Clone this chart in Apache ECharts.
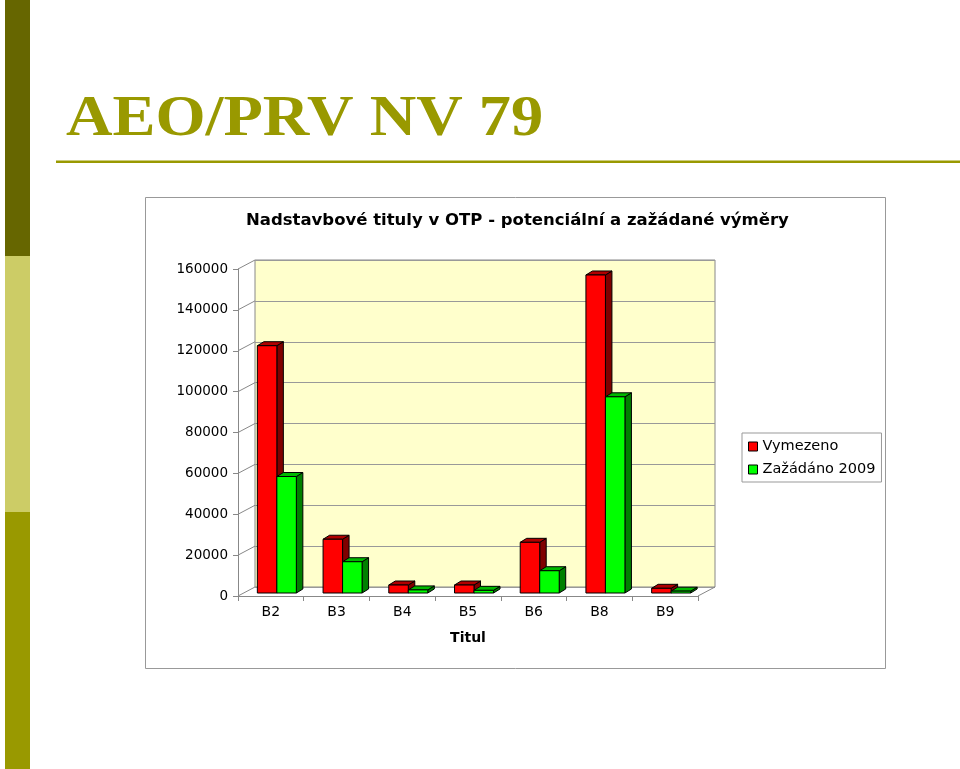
<!DOCTYPE html>
<html>
<head>
<meta charset="utf-8">
<script src="https://cdn.jsdelivr.net/npm/echarts@6/dist/echarts.min.js"></script>
<style>
html,body{margin:0;padding:0;background:#fff;}
#c{width:960px;height:769px;}
</style>
</head>
<body>
<div id="c"></div>
<script>
const categories = ['B2','B3','B4','B5','B6','B8','B9'];
const vymezeno = [121000, 26300, 3900, 3900, 24800, 155600, 2300];
const zazadano = [57000, 15300, 1500, 1300, 10900, 96000, 900];
const yTicks = [0, 20000, 40000, 60000, 80000, 100000, 120000, 140000, 160000];
const seriesNames = ['Vymezeno', 'Zažádáno 2009'];

const FONT = '"DejaVu Sans", sans-serif';
const DX = 17, DY = 9;          // wall depth
const BW = 19.5, BDX = 6.5, BDY = 4, SX = 6, SY = -3;

function barRenderer(side, front, top, sideCol) {
  return function (params, api) {
    const i = api.value(0), v = api.value(1);
    const base = api.coord([i, 0]);
    const tp = api.coord([i, v]);
    const cx = base[0] + SX;
    const x1 = side < 0 ? cx - BW : cx;
    const x2 = side < 0 ? cx : cx + BW;
    const yb = base[1] + SY;
    const yt = tp[1] + SY;
    const st = {stroke: '#000', lineWidth: 1};
    return {
      type: 'group',
      children: [
        {type: 'polygon', shape: {points: [[x2, yt], [x2 + BDX, yt - BDY], [x2 + BDX, yb - BDY], [x2, yb]]}, style: Object.assign({fill: sideCol}, st)},
        {type: 'polygon', shape: {points: [[x1, yt], [x2, yt], [x2 + BDX, yt - BDY], [x1 + BDX, yt - BDY]]}, style: Object.assign({fill: top}, st)},
        {type: 'rect', shape: {x: x1, y: yt, width: x2 - x1, height: yb - yt}, style: Object.assign({fill: front}, st)}
      ]
    };
  };
}

const chart = echarts.init(document.getElementById('c'), null, {renderer: 'canvas'});
const option = {
  animation: false,
  backgroundColor: '#fff',
  graphic: [
    {type: 'rect', z: -10, shape: {x: 5, y: 0, width: 25, height: 256}, style: {fill: '#666600'}},
    {type: 'rect', z: -10, shape: {x: 5, y: 256, width: 25, height: 256}, style: {fill: '#CCCC66'}},
    {type: 'rect', z: -10, shape: {x: 5, y: 512, width: 25, height: 257}, style: {fill: '#999900'}},
    {type: 'text', z: -10, x: 66, y: 93, scaleX: 1.15, style: {text: 'AEO/PRV NV 79', font: 'bold 56px "Liberation Serif", "Times New Roman", serif', fill: '#999900'}},
    {type: 'rect', z: -10, shape: {x: 56, y: 160.5, width: 904, height: 2.5}, style: {fill: '#999900'}},
    {type: 'rect', z: -10, shape: {x: 145.5, y: 197.5, width: 740, height: 471}, style: {fill: '#fff', stroke: '#999', lineWidth: 1}},
    {type: 'text', z: 5, left: 246, top: 212, style: {text: 'Nadstavbové tituly v OTP - potenciální a zažádané výměry', font: 'bold 16.5px ' + FONT, fill: '#000'}}
  ],
  legend: {
    orient: 'vertical',
    left: 742, top: 433,
    padding: [6, 6, 5, 6],
    backgroundColor: '#fff',
    borderColor: '#999', borderWidth: 1,
    itemWidth: 9, itemHeight: 9, itemGap: 8,
    icon: 'rect',
    itemStyle: {borderColor: '#000', borderWidth: 1},
    textStyle: {fontFamily: FONT, fontSize: 14.5, color: '#000', padding: [0, 0, 0, 0]},
    data: seriesNames
  },
  grid: [
    {left: 255, top: 260, width: 460, height: 327, show: true, backgroundColor: '#FFFFCC', borderColor: '#888', borderWidth: 1},
    {left: 238, top: 269, width: 460, height: 327}
  ],
  xAxis: [
    {gridIndex: 0, type: 'category', data: categories, show: false},
    {gridIndex: 1, type: 'category', data: categories,
      axisLine: {lineStyle: {color: '#888'}},
      axisTick: {show: true, length: 5, lineStyle: {color: '#888'}},
      axisLabel: {fontFamily: FONT, fontSize: 14, color: '#000', margin: 9},
      name: 'Titul', nameLocation: 'middle', nameGap: 35,
      nameTextStyle: {fontFamily: FONT, fontSize: 14, fontWeight: 'bold', color: '#000'}
    }
  ],
  yAxis: [
    {gridIndex: 0, type: 'value', min: 0, max: 160000, interval: 20000,
      axisLine: {show: false}, axisTick: {show: false}, axisLabel: {show: false},
      splitLine: {show: true, lineStyle: {color: '#999', width: 1}}
    },
    {gridIndex: 1, type: 'value', min: 0, max: 160000, interval: 20000,
      axisLine: {show: true, lineStyle: {color: '#888'}},
      axisTick: {show: true, length: 5, lineStyle: {color: '#888'}},
      axisLabel: {fontFamily: FONT, fontSize: 13.5, color: '#000', margin: 10, formatter: v => String(v)},
      splitLine: {show: false}
    }
  ],
  series: [
    {
      type: 'custom', name: 'depth', xAxisIndex: 1, yAxisIndex: 1, silent: true, z: 1,
      data: yTicks.map(v => [0, v]),
      renderItem: function (params, api) {
        const cs = params.coordSys;
        const y = api.coord([0, api.value(1)])[1];
        const x0 = cs.x;
        const children = [{type: 'line', shape: {x1: x0, y1: y, x2: x0 + DX, y2: y - DY}, style: {stroke: '#888', lineWidth: 1}}];
        if (api.value(1) === 0) {
          children.push({type: 'line', shape: {x1: x0 + cs.width, y1: y, x2: x0 + cs.width + DX, y2: y - DY}, style: {stroke: '#888', lineWidth: 1}});
        }
        return {type: 'group', children: children};
      }
    },
    {
      type: 'custom', name: seriesNames[0], xAxisIndex: 1, yAxisIndex: 1, z: 3,
      itemStyle: {color: '#FF0000'},
      data: vymezeno.map((v, i) => [i, v]),
      renderItem: barRenderer(-1, '#FF0000', '#B00000', '#800000')
    },
    {
      type: 'custom', name: seriesNames[1], xAxisIndex: 1, yAxisIndex: 1, z: 4,
      itemStyle: {color: '#00FF00'},
      data: zazadano.map((v, i) => [i, v]),
      renderItem: barRenderer(1, '#00FF00', '#00B800', '#008000')
    }
  ]
};
chart.setOption(option);
</script>
</body>
</html>
